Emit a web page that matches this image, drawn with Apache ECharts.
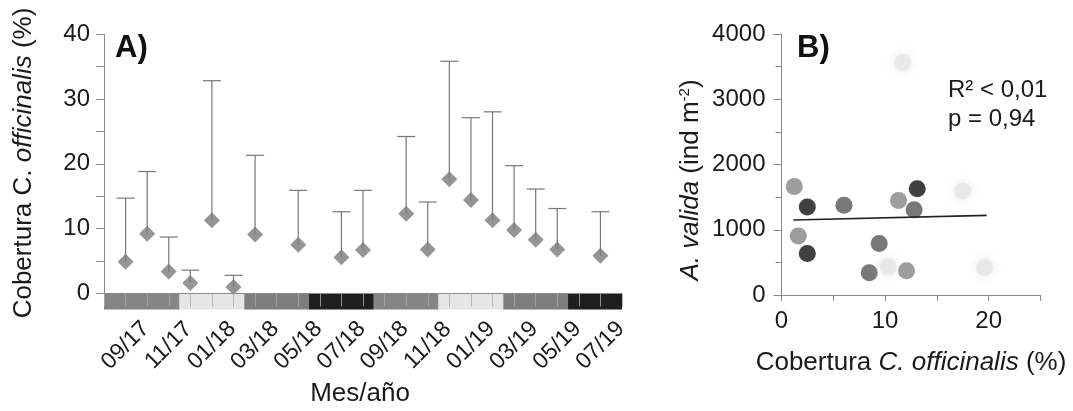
<!DOCTYPE html>
<html>
<head>
<meta charset="utf-8">
<script src="https://cdn.jsdelivr.net/npm/echarts@6/dist/echarts.min.js"></script>
<style>
html,body{margin:0;padding:0;background:#fff;}
#c{width:1073px;height:411px;}
</style>
</head>
<body>
<div id="c"></div>
<script>
// ---------- Panel A data ----------
const months = ['08/17','09/17','10/17','11/17','12/17','01/18','02/18','03/18','04/18','05/18','06/18','07/18','08/18','09/18','10/18','11/18','12/18','01/19','02/19','03/19','04/19','05/19','06/19','07/19','08/19'];
const coverMonth = ['09/17','10/17','11/17','12/17','01/18','02/18','03/18','05/18','07/18','08/18','10/18','11/18','12/18','01/19','02/19','03/19','04/19','05/19','07/19'];
const coverMean  = [4.9, 9.2, 3.4, 1.6, 11.3, 1.0, 9.1, 7.5, 5.6, 6.7, 12.3, 6.8, 17.6, 14.4, 11.3, 9.8, 8.3, 6.8, 5.8];
const coverUpper = [14.7, 18.8, 8.7, 3.6, 32.8, 2.8, 21.3, 15.9, 12.6, 15.9, 24.2, 14.1, 35.8, 27.1, 28.0, 19.7, 16.1, 13.1, 12.6];
const seasonStart = [0, 3.5, 6.5, 9.5, 12.5, 15.5, 18.5, 21.5];
const seasonEnd   = [3.5, 6.5, 9.5, 12.5, 15.5, 18.5, 21.5, 24];
const seasonName  = ['primavera','verano','otoño','invierno','primavera','verano','otoño','invierno'];
const yTicksA = [0, 10, 20, 30, 40];

// ---------- Panel B data ----------
const bCover   = [1.23, 2.49, 6.03, 11.3, 13.1, 12.8, 17.5, 1.62, 2.49, 9.43, 8.47, 10.3, 12.07, 19.6, 11.7];
const bDensity = [1664, 1348, 1374, 1450, 1629, 1308, 1593, 905, 636, 789, 341, 432, 371, 422, 3562];
const bSeason  = ['primavera','invierno','otoño','primavera','invierno','otoño','verano','primavera','invierno','otoño','otoño','verano','primavera','verano','verano'];
const regCover   = [1.15, 19.8];
const regDensity = [1150, 1220];
const statLines  = ['R² < 0,01', 'p = 0,94'];

// ---------- styles ----------
const barColors   = {primavera:'#858585', verano:'#e6e6e6', 'otoño':'#7d7d7d', invierno:'#1e1e1e'};
const pointColors = {primavera:'#8c8c8c', verano:'#e6e6e6', 'otoño':'#5e5e5e', invierno:'#181818'};
const FONT = 'Liberation Sans, Arial, sans-serif';
const txt = '#1a1a1a';
const axisGray = '#8a8a8a';

const errData = coverMonth.map((m, i) => [months.indexOf(m), coverMean[i], coverUpper[i]]);
const meanData = coverMonth.map((m, i) => [months.indexOf(m), coverMean[i]]);
const seasonData = seasonStart.map((s, i) => [s, seasonEnd[i], 0, i]);
const scatterData = bCover.map((x, i) => {
  const faint = bSeason[i] === 'verano';
  return {
    value: [x, bDensity[i]],
    itemStyle: {
      color: pointColors[bSeason[i]],
      shadowBlur: faint ? 10 : 1,
      shadowColor: faint ? '#e2e2e2' : 'rgba(0,0,0,0.15)'
    }
  };
});

const chart = echarts.init(document.getElementById('c'), null, {renderer: 'canvas'});
chart.setOption({
  animation: false,
  backgroundColor: '#fff',
  textStyle: {fontFamily: FONT},
  grid: [
    {left: 104, top: 34, width: 518, height: 259.5},
    {left: 781.5, top: 34, width: 259, height: 261}
  ],
  xAxis: [
    {
      gridIndex: 0, type: 'value', min: 0, max: 24, interval: 1, z: 5,
      axisLine: {show: true, lineStyle: {color: axisGray, width: 1}},
      axisTick: {show: true, length: 13, lineStyle: {color: '#a8a8a8', opacity: 0.8}},
      splitLine: {show: false},
      axisLabel: {
        formatter: v => (v % 2 === 1 ? months[v] : ''),
        rotate: 45, align: 'center', verticalAlign: 'middle', margin: 52,
        fontSize: 23, color: txt, fontFamily: FONT, showMinLabel: true, showMaxLabel: true
      }
    },
    {
      gridIndex: 1, type: 'value', min: 0, max: 25, interval: 5,
      axisLine: {show: true, lineStyle: {color: axisGray}},
      axisTick: {show: true, length: 6, lineStyle: {color: axisGray}},
      splitLine: {show: false},
      axisLabel: {formatter: v => (v % 10 === 0 ? String(v) : ''), fontSize: 24, color: txt, margin: 14, fontFamily: FONT}
    }
  ],
  yAxis: [
    {
      gridIndex: 0, type: 'value', min: yTicksA[0], max: yTicksA[yTicksA.length - 1], interval: 10,
      axisLine: {show: true, lineStyle: {color: axisGray}},
      axisTick: {show: true, length: 8, lineStyle: {color: axisGray}},
      minorTick: {show: true, splitNumber: 2, length: 8, lineStyle: {color: axisGray}},
      splitLine: {show: false},
      axisLabel: {fontSize: 24, color: txt, margin: 14, fontFamily: FONT}
    },
    {
      gridIndex: 1, type: 'value', min: 0, max: 4000, interval: 1000,
      axisLine: {show: true, lineStyle: {color: axisGray}},
      axisTick: {show: true, length: 8, lineStyle: {color: axisGray}},
      minorTick: {show: true, splitNumber: 2, length: 6, lineStyle: {color: axisGray}},
      splitLine: {show: false},
      axisLabel: {formatter: v => String(v), fontSize: 24, color: txt, margin: 16, fontFamily: FONT}
    }
  ],
  series: [
    {
      type: 'custom', xAxisIndex: 0, yAxisIndex: 0, z: 1, clip: false,
      encode: {x: [0, 1], y: 2},
      data: seasonData,
      renderItem: (params, api) => {
        const p1 = api.coord([api.value(0), 0]);
        const p2 = api.coord([api.value(1), 0]);
        const name = seasonName[api.value(3)];
        return {type: 'rect', shape: {x: p1[0], y: p1[1] + 0.5, width: p2[0] - p1[0], height: 15.5},
                style: {fill: barColors[name]}};
      }
    },
    {
      type: 'custom', xAxisIndex: 0, yAxisIndex: 0, z: 2,
      encode: {x: 0, y: [1, 2]},
      data: errData,
      renderItem: (params, api) => {
        const lo = api.coord([api.value(0), api.value(1)]);
        const hi = api.coord([api.value(0), api.value(2)]);
        const st = {stroke: '#777', lineWidth: 1.2};
        return {type: 'group', children: [
          {type: 'line', shape: {x1: lo[0], y1: lo[1], x2: hi[0], y2: hi[1]}, style: st},
          {type: 'line', shape: {x1: hi[0] - 9, y1: hi[1], x2: hi[0] + 9, y2: hi[1]}, style: st}
        ]};
      }
    },
    {
      type: 'scatter', xAxisIndex: 0, yAxisIndex: 0, z: 3,
      symbol: 'diamond', symbolSize: [16, 16],
      itemStyle: {color: '#7a7a7a'},
      data: meanData
    },
    {
      type: 'scatter', xAxisIndex: 1, yAxisIndex: 1, z: 3,
      symbolSize: 17,
      data: scatterData
    },
    {
      type: 'line', xAxisIndex: 1, yAxisIndex: 1, z: 4,
      symbol: 'none', lineStyle: {color: '#222', width: 1.6},
      data: regCover.map((x, i) => [x, regDensity[i]])
    }
  ],
  graphic: [
    {type: 'text', left: 115, top: 33, style: {text: 'A)', font: 'bold 31px ' + FONT, fill: '#111'}},
    {type: 'text', left: 797, top: 33, style: {text: 'B)', font: 'bold 31px ' + FONT, fill: '#111'}},
    {type: 'text', x: 948, y: 90, style: {text: statLines[0], font: '24px ' + FONT, fill: txt, verticalAlign: 'middle'}},
    {type: 'text', x: 948, y: 119, style: {text: statLines[1], font: '24px ' + FONT, fill: txt, verticalAlign: 'middle'}},
    {type: 'text', x: 24, y: 163, rotation: Math.PI / 2,
      style: {text: '{n|Cobertura C. }{i|officinalis}{n| (%)}', align: 'center', verticalAlign: 'middle',
        rich: {n: {fontSize: 26, fontFamily: FONT, fill: txt, color: txt}, i: {fontSize: 26, fontStyle: 'italic', fontFamily: FONT, fill: txt, color: txt}}}},
    {type: 'text', x: 691, y: 180, rotation: Math.PI / 2,
      style: {text: '{i|A. valida}{n| (ind m}{s|-2}{n|)}', align: 'center', verticalAlign: 'middle',
        rich: {n: {fontSize: 26, fontFamily: FONT, fill: txt, color: txt},
               i: {fontSize: 26, fontStyle: 'italic', fontFamily: FONT, fill: txt, color: txt},
               s: {fontSize: 15, fontFamily: FONT, fill: txt, color: txt, padding: [0, 0, 12, 0]}}}},
    {type: 'text', x: 911, y: 363,
      style: {text: '{n|Cobertura }{i|C. officinalis}{n| (%)}', align: 'center', verticalAlign: 'middle',
        rich: {n: {fontSize: 26, fontFamily: FONT, fill: txt, color: txt}, i: {fontSize: 26, fontStyle: 'italic', fontFamily: FONT, fill: txt, color: txt}}}},
    {type: 'text', x: 360, y: 394,
      style: {text: 'Mes/año', font: '26px ' + FONT, fill: txt, align: 'center', verticalAlign: 'middle'}}
  ]
});
</script>
</body>
</html>
